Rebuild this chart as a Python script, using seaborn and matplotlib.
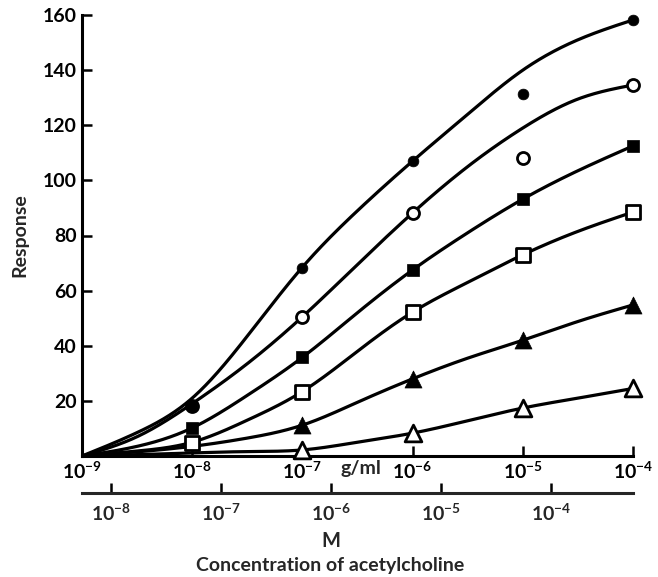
import numpy as np
import pandas as pd
import matplotlib
matplotlib.use("Agg")
import matplotlib.pyplot as plt
import seaborn as sns

# ---------------- data ----------------
# measured points, concentration in g/ml
conc_points = [1e-8, 1e-7, 1e-6, 1e-5, 1e-4]
conc_tri_points = [1e-7, 1e-6, 1e-5, 1e-4]
filled_circle = [18, 68.2, 107.0, 131.5, 158.2]
open_circle = [18, 50.5, 88.2, 108.0, 134.6]
filled_square = [10.2, 35.8, 67.5, 93.2, 112.5]
open_square = [4.7, 23.4, 52.2, 73.0, 88.5]
filled_triangle = [11.2, 28.0, 42.0, 54.8]
open_triangle = [2.2, 8.3, 17.4, 24.5]

# hand-drawn fitted curves, read at half decades (log10 g/ml)
curve_log_conc = [-9, -8.5, -8, -7.5, -7, -6.5, -6, -5.5, -5, -4.5, -4]
fc_curve = [0, 8.5, 21.0, 43.5, 68.5, 89.0, 107.0, 124.0, 140.0, 151.0, 158.2]
oc_curve = [0, 7.0, 19.0, 33.5, 50.5, 69.5, 88.2, 105.0, 119.0, 129.5, 134.6]
fs_curve = [0, 3.5, 10.2, 22.0, 35.8, 52.0, 67.5, 81.0, 93.2, 103.5, 112.5]
os_curve = [0, 1.8, 5.0, 13.0, 23.4, 38.0, 52.2, 63.0, 73.0, 81.5, 88.5]
ft_curve = [0, 1.5, 3.5, 6.5, 11.2, 19.5, 28.0, 35.5, 42.0, 48.8, 54.8]
ot_curve = [0, 0.5, 1.1, 1.6, 2.2, 5.0, 8.3, 12.8, 17.4, 21.0, 24.5]

y_ticks = [20, 40, 60, 80, 100, 120, 140, 160]
gml_ticks = [1e-9, 1e-8, 1e-7, 1e-6, 1e-5, 1e-4]
gml_labels = [r"$10^{-9}$", r"$10^{-8}$", r"$10^{-7}$", r"$10^{-6}$", r"$10^{-5}$", r"$10^{-4}$"]
molar_ticks = [1e-8, 1e-7, 1e-6, 1e-5, 1e-4]
molar_labels = [r"$10^{-8}$", r"$10^{-7}$", r"$10^{-6}$", r"$10^{-5}$", r"$10^{-4}$"]
GML_PER_M = 0.1817  # acetylcholine chloride, g/ml per mol/l


# ---------------- smooth drawing of the curves (natural cubic spline) ----------------
def natural_spline(x, y, xq):
    x = np.asarray(x, float); y = np.asarray(y, float)
    n = len(x); h = np.diff(x)
    A = np.zeros((n, n)); rhs = np.zeros(n)
    A[0, 0] = 1; A[-1, -1] = 1
    for i in range(1, n - 1):
        A[i, i - 1] = h[i - 1]
        A[i, i] = 2 * (h[i - 1] + h[i])
        A[i, i + 1] = h[i]
        rhs[i] = 3 * ((y[i + 1] - y[i]) / h[i] - (y[i] - y[i - 1]) / h[i - 1])
    c = np.linalg.solve(A, rhs)
    b = (y[1:] - y[:-1]) / h - h * (2 * c[:-1] + c[1:]) / 3
    d = (c[1:] - c[:-1]) / (3 * h)
    idx = np.clip(np.searchsorted(x, xq) - 1, 0, n - 2)
    dx = xq - x[idx]
    return y[idx] + b[idx] * dx + c[idx] * dx**2 + d[idx] * dx**3


# ---------------- figure ----------------
sns.set_theme(style="white")
plt.rcParams["font.family"] = ["Lato", "DejaVu Sans"]
plt.rcParams["font.weight"] = "bold"
plt.rcParams["mathtext.fontset"] = "custom"
plt.rcParams["mathtext.rm"] = "Lato:bold"
plt.rcParams["mathtext.it"] = "Lato:bold"
plt.rcParams["mathtext.bf"] = "Lato:bold"
plt.rcParams["mathtext.default"] = "rm"

fig = plt.figure(figsize=(6.58, 5.77), dpi=100)
ax = fig.add_axes([82 / 658, 121 / 577, 551 / 658, 441 / 577])
ax.set_xscale("log")

lw = 2.3
xq_log = np.linspace(-9, -4, 500)
for curve in [fc_curve, oc_curve, fs_curve, os_curve, ft_curve, ot_curve]:
    yq = np.maximum(natural_spline(curve_log_conc, curve, xq_log), 0)
    sns.lineplot(x=10 ** xq_log, y=yq, ax=ax, color="black", linewidth=lw,
                 estimator=None, sort=False, zorder=2)

common = dict(ax=ax, zorder=4, clip_on=False, legend=False)
sns.scatterplot(x=conc_points, y=open_circle, marker="o", s=75, color="white",
                edgecolor="black", linewidth=2.0, **common)
sns.scatterplot(x=conc_points, y=filled_circle, marker="o", s=60, color="black",
                edgecolor="black", linewidth=0.5, **common)
sns.scatterplot(x=conc_points, y=filled_square, marker="s", s=80, color="black",
                edgecolor="black", linewidth=0.5, **common)
sns.scatterplot(x=conc_points, y=open_square, marker="s", s=100, color="white",
                edgecolor="black", linewidth=2.0, **common)
sns.scatterplot(x=conc_tri_points, y=filled_triangle, marker="^", s=150, color="black",
                edgecolor="black", linewidth=0.5, **common)
sns.scatterplot(x=conc_tri_points, y=open_triangle, marker="^", s=145, color="white",
                edgecolor="black", linewidth=2.0, **common)

ax.set_xlim(1e-9, 1e-4)
ax.set_ylim(0, 160)
for s in ["top", "right"]:
    ax.spines[s].set_visible(False)
for s in ["left", "bottom"]:
    ax.spines[s].set_linewidth(2.2)
    ax.spines[s].set_color("black")

fs_tick = 14
ax.set_yticks(y_ticks)
ax.set_yticklabels([str(v) for v in y_ticks])
ax.set_xticks(gml_ticks)
ax.set_xticklabels(gml_labels)
ax.xaxis.set_minor_locator(matplotlib.ticker.NullLocator())
ax.tick_params(axis="both", which="major", direction="in", length=7, width=1.8,
               color="black", labelsize=fs_tick, labelcolor="black")
ax.tick_params(axis="x", pad=3)
ax.tick_params(axis="y", pad=4, left=True)
ax.tick_params(axis="x", bottom=True)
ax.set_xlabel("")
ax.set_ylabel("Response", fontsize=14, fontweight="bold", labelpad=10)

ax.text(0.506, -0.029, "g/ml", transform=ax.transAxes, ha="center", va="center",
        fontsize=fs_tick, fontweight="bold")

# second concentration scale in mol/l
sec = ax.secondary_xaxis(-0.084, functions=(lambda g: g / GML_PER_M, lambda m: m * GML_PER_M))
sec.set_xticks(molar_ticks)
sec.set_xticklabels(molar_labels)
sec.xaxis.set_minor_locator(matplotlib.ticker.NullLocator())
sec.tick_params(axis="x", which="major", direction="in", length=7, width=1.8,
                color="black", labelsize=fs_tick, pad=7)
sec.spines["bottom"].set_linewidth(2.2)

fig.text(331 / 658, 1 - 541 / 577, "M", ha="center", va="center", fontsize=14.5, fontweight="bold")
fig.text(330 / 658, 1 - 565 / 577, "Concentration of acetylcholine", ha="center", va="center",
         fontsize=14, fontweight="bold")

fig.savefig("out.png", dpi=100)
